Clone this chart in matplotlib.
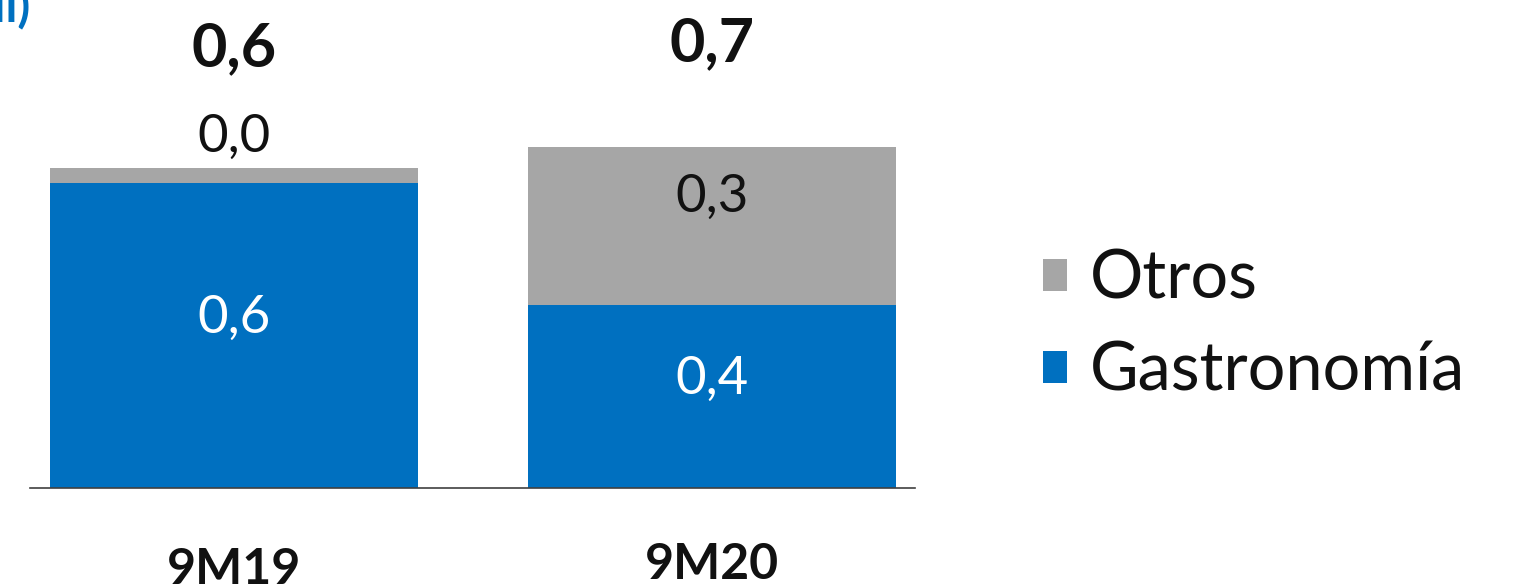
import numpy as np
import matplotlib.pyplot as plt

plt.rcParams['font.family'] = ['Lato', 'DejaVu Sans']

# data
categories = ['9M19', '9M20']
gastronomia = [0.60, 0.36]
otros = [0.03, 0.31]
gastro_labels = ['0,6', '0,4']
otros_labels = ['0,0', '0,3']
total_labels = ['0,6', '0,7']

blue = '#0070C0'
grey = '#A6A6A6'

fig = plt.figure(figsize=(15.33, 5.86), dpi=100)
ax = fig.add_axes([30 / 1533, 98 / 586, 885 / 1533, 488 / 586])

x = np.arange(len(categories))
ax.bar(x, gastronomia, width=0.77, color=blue, label='Gastronomía')
ax.bar(x, otros, width=0.77, bottom=gastronomia, color=grey, label='Otros')
ax.set_xlim(-0.427, 1.425)
ax.set_ylim(0, 0.96)

for s in ['top', 'right', 'left']:
    ax.spines[s].set_visible(False)
ax.spines['bottom'].set_color('#404040')
ax.spines['bottom'].set_linewidth(1.2)
ax.set_yticks([])
ax.set_xticks([])

# segment labels (sit a little above the segment middle, as in the original)
for i in range(len(categories)):
    ax.text(x[i], gastronomia[i] / 2 + 0.034, gastro_labels[i], ha='center', va='center',
            color='white', fontsize=38)
    if otros[i] < 0.1:
        ax.text(x[i], gastronomia[i] + otros[i] + 0.06, otros_labels[i], ha='center',
                va='center', color='#111111', fontsize=38)
    else:
        ax.text(x[i], gastronomia[i] + otros[i] / 2 + 0.057, otros_labels[i], ha='center',
                va='center', color='#111111', fontsize=38)

# totals on top
total_y = [0.865, 0.875]
for i in range(len(categories)):
    ax.text(x[i], total_y[i], total_labels[i], ha='center', va='center',
            color='#111111', fontsize=44, fontweight='bold')

# category labels below axis
cat_y = [-0.16, -0.15]
for i in range(len(categories)):
    ax.text(x[i], cat_y[i], categories[i], ha='center', va='center',
            color='#111111', fontsize=36, fontweight='bold')

# cut-off title fragment at the top left
fig.text(30 / 1533, 1 - 8 / 586, '(€ mil)', ha='right', va='center', color=blue,
         fontsize=34, fontweight='bold')

handles, labels = ax.get_legend_handles_labels()
fig.legend(handles[::-1], labels[::-1], loc='center left',
           bbox_to_anchor=(1030 / 1533, 1 - 326 / 586), frameon=False,
           fontsize=48, handlelength=0.35, handleheight=0.35, handletextpad=0.35,
           labelspacing=0.45, labelcolor='#111111', borderaxespad=0, borderpad=0.2)

fig.savefig('out.png', dpi=100)
